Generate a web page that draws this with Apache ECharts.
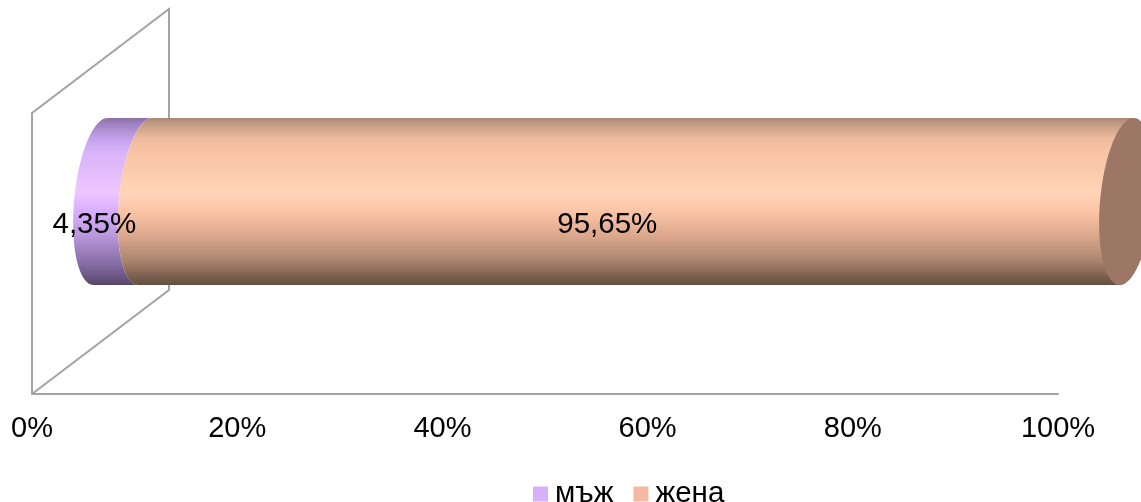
<!DOCTYPE html>
<html><head><meta charset="utf-8">
<style>html,body{margin:0;padding:0;background:#fff;overflow:hidden}#c{width:1141px;height:502px}</style>
<script src="https://cdn.jsdelivr.net/npm/echarts@6/dist/echarts.min.js"></script>
</head><body><div id="c"></div>
<script>
const categories = ['Пол'];
const seriesNames = ['мъж', 'жена'];
const maleValues = [4.35];
const femaleValues = [95.65];
const axisTicks = [0, 20, 40, 60, 80, 100];
const legendColors = ['#D9B0FF', '#F4B9A0'];
const capColor = '#9C7766';

const stopsAt = [0, 0.03, 0.12, 0.2, 0.45, 0.55, 0.7, 0.85, 0.95, 1];
const maleStops = ['#8A70A6', '#9C80BC', '#C4A0EC', '#D8B3FA', '#EEC6FF', '#D9B0FF', '#BC98DE', '#8D73AA', '#6B5783', '#564567'];
const femaleStops = ['#A88773', '#C09A84', '#EDBA9D', '#F8C3A5', '#FFD4B8', '#FCC6A8', '#DDA98E', '#AD8670', '#7A5E4E', '#64503F'];

const font = '"Liberation Sans", Arial, sans-serif';
const fontSize = 29.5;
const axisFontSize = 29;
const depthX = 137, depthY = -104, barRatio = 0.594, radX = 26.5, shear = 7, labelShift = 40, labelY = 224.5;

function grad(cols) {
  return { type: 'linear', x: 0, y: 0, x2: 0, y2: 1,
    colorStops: cols.map((c, i) => ({ offset: stopsAt[i], color: c })) };
}
function arc(cx, cy, b, from, to, n) {
  const pts = [];
  for (let i = 0; i <= n; i++) {
    const t = from + (to - from) * i / n;
    pts.push([cx + radX * Math.cos(t) - shear * Math.sin(t), cy + b * Math.sin(t)]);
  }
  return pts;
}
function makeBar(stops, isLast) {
  return function (params, api) {
    const v0 = api.value(0), v1 = api.value(1);
    const p0 = api.coord([v0, api.value(2)]), p1 = api.coord([v1, api.value(2)]);
    const band = api.size([0, 1])[1];
    const b = band * barRatio / 2;
    const cy = p0[1] + depthY / 2;
    const x0 = p0[0] + depthX / 2, x1 = p1[0] + depthX / 2;
    const H = Math.PI / 2;
    const start = arc(x0, cy, b, -H, -3 * H, 60);
    const end = isLast ? arc(x1, cy, b, H, -H, 60) : arc(x1, cy, b, -3 * H, -H, 60);
    const children = [{
      type: 'polygon', shape: { points: start.concat(end) },
      style: { fill: grad(stops), stroke: null }
    }];
    if (isLast) {
      children.push({ type: 'polygon',
        shape: { points: arc(x1, cy, b, 0, 2 * Math.PI, 120) },
        style: { fill: capColor, stroke: null } });
    }
    return { type: 'group', children };
  };
}
function renderLabel(params, api) {
  const v0 = api.value(0), v1 = api.value(1);
  const p0 = api.coord([v0, api.value(2)]), p1 = api.coord([v1, api.value(2)]);
  return { type: 'text',
    style: { text: (v1 - v0).toFixed(2).replace('.', ',') + '%',
      x: (p0[0] + p1[0]) / 2 + labelShift, y: labelY,
      align: 'center', verticalAlign: 'middle',
      font: fontSize + 'px ' + font, fill: '#000' } };
}
function renderWalls(params, api) {
  const p = api.coord([api.value(0), api.value(1)]);
  const band = api.size([0, 1])[1];
  const x = p[0], bot = p[1] + band / 2, top = p[1] - band / 2;
  return { type: 'polyline',
    shape: { points: [[x, bot], [x, top], [x + depthX, top + depthY], [x + depthX, bot + depthY], [x, bot]] },
    style: { stroke: '#A3A3A3', lineWidth: 2, fill: null } };
}

const maleRows = maleValues.map((v, i) => [0, v, i]);
const femaleRows = femaleValues.map((v, i) => [maleValues[i], maleValues[i] + v, i]);

const chart = echarts.init(document.getElementById('c'), null, { renderer: 'canvas' });
chart.setOption({
  animation: false,
  backgroundColor: '#fff',
  grid: { left: 32, top: 113, width: 1026, height: 281 },
  legend: {
    left: 528, top: 474, itemWidth: 15, itemHeight: 15, itemGap: 20,
    selectedMode: false,
    data: seriesNames.map((n, i) => ({ name: n, icon: 'rect', itemStyle: { color: legendColors[i] } })),
    textStyle: { fontFamily: font, fontSize: fontSize, color: '#000', padding: [0, 0, 0, 2] }
  },
  xAxis: {
    type: 'value', min: axisTicks[0], max: axisTicks[axisTicks.length - 1], interval: axisTicks[1] - axisTicks[0],
    splitLine: { show: false }, axisTick: { show: false },
    axisLine: { show: true, lineStyle: { color: '#A3A3A3', width: 2 } },
    axisLabel: { formatter: '{value}%', margin: 20, fontFamily: font, fontSize: axisFontSize, color: '#000', hideOverlap: false }
  },
  yAxis: { type: 'category', data: categories, show: false },
  series: [
    { type: 'custom', name: 'walls', z: 1, silent: true, renderItem: renderWalls,
      encode: { x: 0, y: 1 }, data: [[0, 0]] },
    { type: 'custom', name: seriesNames[0], z: 2, renderItem: makeBar(maleStops, false),
      itemStyle: { color: legendColors[0] }, encode: { x: [0, 1], y: 2 }, data: maleRows },
    { type: 'custom', name: seriesNames[1], z: 3, renderItem: makeBar(femaleStops, true),
      itemStyle: { color: legendColors[1] }, encode: { x: [0, 1], y: 2 }, data: femaleRows },
    { type: 'custom', name: 'labels', z: 5, silent: true, renderItem: renderLabel,
      encode: { x: [0, 1], y: 2 }, data: maleRows.concat(femaleRows) }
  ]
});
</script></body></html>
